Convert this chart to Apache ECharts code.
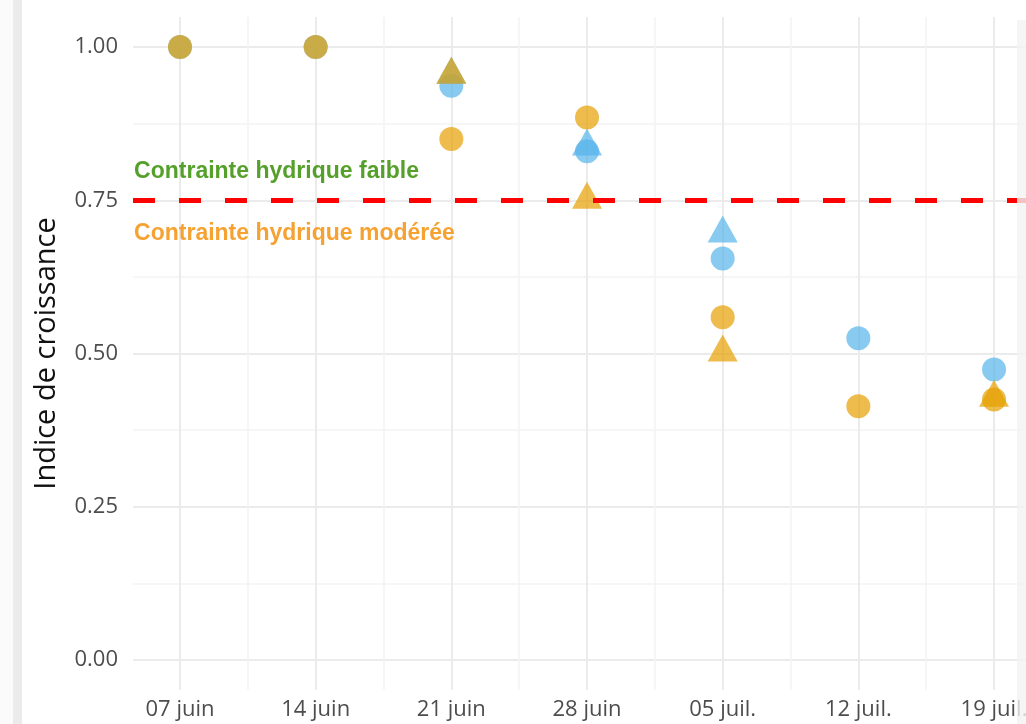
<!DOCTYPE html>
<html>
<head>
<meta charset="utf-8">
<script src="https://cdn.jsdelivr.net/npm/echarts@6/dist/echarts.min.js"></script>
<style>
  html, body { margin: 0; padding: 0; background: #ffffff; }
  #chart { width: 1026px; height: 724px; }
</style>
</head>
<body>
<div id="chart"></div>
<script>
// days since 07 juin
const weekDays = [0, 7, 14, 21, 28, 35, 42]
const weekLabels = ['07 juin', '14 juin', '21 juin', '28 juin', '05 juil.', '12 juil.', '19 juil.']
const minorDays = [3.5, 10.5, 17.5, 24.5, 31.5, 38.5]
const yTicks = [0, 0.25, 0.5, 0.75, 1]
const yMinorTicks = [0.125, 0.375, 0.625, 0.875]

const blueCircle = [1.0, 1.0, 0.937, 0.830, 0.655, 0.525, 0.474]
const orangeCircle = [1.0, 1.0, 0.850, 0.885, 0.559, 0.414, 0.425]
const blueTriangle = [null, null, 0.962, 0.845, 0.703, null, null]
const orangeTriangle = [null, null, 0.962, 0.758, 0.509, null, 0.435]

const threshold = 0.75

const BLUE = 'rgba(86, 180, 233, 0.7)'
const ORANGE = 'rgba(230, 159, 0, 0.7)'

const toPoints = (values) => weekDays.map((d, i) => [d, values[i]]).filter((p) => p[1] !== null)

const chart = echarts.init(document.getElementById('chart'))

const xMin = -2.425
const xMax = 43.65

const baseFont = 'Open Sans'

chart.setOption({
    animation: false,
    backgroundColor: '#ffffff',
    grid: {
        left: 133,
        right: 0,
        top: 17,
        bottom: 34,
        containLabel: false,
        outerBoundsMode: 'none',
    },
    xAxis: [
        {
            type: 'value',
            min: xMin,
            max: xMax,
            axisLine: { show: false },
            axisTick: { show: false, customValues: weekDays },
            axisLabel: {
                customValues: weekDays,
                margin: 9,
                color: '#4d4d4d',
                fontSize: 22,
                fontFamily: baseFont,
                hideOverlap: false,
                formatter: (v) => weekLabels[weekDays.indexOf(v)] || '',
            },
            splitLine: { show: true, lineStyle: { color: '#ebebeb', width: 2 } },
        },
        {
            type: 'value',
            min: xMin,
            max: xMax,
            axisLine: { show: false },
            axisTick: { show: false, customValues: minorDays },
            axisLabel: { show: false },
            splitLine: { show: true, lineStyle: { color: '#f3f3f3', width: 1.5 } },
        },
    ],
    yAxis: [
        {
            type: 'value',
            min: -0.049,
            max: 1.049,
            name: 'Indice de croissance',
            nameLocation: 'middle',
            nameGap: 72,
            nameTextStyle: {
                color: '#111111',
                fontSize: 29,
                fontFamily: baseFont,
            },
            axisLine: { show: false },
            axisTick: { show: false, customValues: yTicks },
            axisLabel: {
                customValues: yTicks,
                margin: 15,
                color: '#4d4d4d',
                fontSize: 22,
                fontFamily: baseFont,
                formatter: (v) => v.toFixed(2),
            },
            splitLine: { show: true, lineStyle: { color: '#ebebeb', width: 2 } },
        },
        {
            type: 'value',
            min: -0.049,
            max: 1.049,
            position: 'left',
            axisLine: { show: false },
            axisTick: { show: false, customValues: yMinorTicks },
            axisLabel: { show: false },
            splitLine: { show: true, lineStyle: { color: '#f3f3f3', width: 1.5 } },
        },
    ],
    series: [
        {
            type: 'scatter',
            data: toPoints(blueCircle),
            symbol: 'circle',
            symbolSize: 24,
            itemStyle: { color: BLUE, opacity: 1 },
        },
        {
            type: 'scatter',
            data: toPoints(orangeCircle),
            symbol: 'circle',
            symbolSize: 24,
            itemStyle: { color: ORANGE, opacity: 1 },
        },
        {
            type: 'scatter',
            data: toPoints(blueTriangle),
            symbol: 'triangle',
            symbolSize: [30, 27],
            itemStyle: { color: BLUE, opacity: 1 },
        },
        {
            type: 'scatter',
            data: toPoints(orangeTriangle),
            symbol: 'triangle',
            symbolSize: [30, 27],
            itemStyle: { color: ORANGE, opacity: 1 },
            markLine: {
                silent: true,
                symbol: ['none', 'none'],
                label: { show: false },
                lineStyle: { color: '#ff0000', width: 5, type: [22, 24], opacity: 1 },
                emphasis: { disabled: true },
                data: [{ yAxis: threshold }],
            },
        },
    ],
})

// annotations placed in data coordinates, like ggplot annotate()
const faiblePos = chart.convertToPixel({ xAxisIndex: 0, yAxisIndex: 0 }, [-2.37, 0.797])
const modereePos = chart.convertToPixel({ xAxisIndex: 0, yAxisIndex: 0 }, [-2.37, 0.696])

chart.setOption({
    graphic: [
        { type: 'rect', left: 0, top: 0, shape: { width: 13, height: 724 }, style: { fill: '#fbfbfb' }, z: -1 },
        { type: 'rect', left: 13, top: 0, shape: { width: 9, height: 724 }, style: { fill: '#ebebeb' }, z: 10 },
        { type: 'rect', left: 1017, top: 20, shape: { width: 9, height: 704 }, style: { fill: '#f3f3f3', opacity: 0.8 }, z: 10 },
        {
            type: 'text',
            x: faiblePos[0],
            y: faiblePos[1],
            style: {
                text: 'Contrainte hydrique faible',
                fill: '#55a02a',
                font: 'bold 23px "Liberation Sans", Arial, sans-serif',
                textVerticalAlign: 'middle',
                textAlign: 'left',
            },
            z: 20,
        },
        {
            type: 'text',
            x: modereePos[0],
            y: modereePos[1],
            style: {
                text: 'Contrainte hydrique modérée',
                fill: '#f6a233',
                font: 'bold 23px "Liberation Sans", Arial, sans-serif',
                textVerticalAlign: 'middle',
                textAlign: 'left',
            },
            z: 20,
        },
    ],
})
</script>
</body>
</html>
